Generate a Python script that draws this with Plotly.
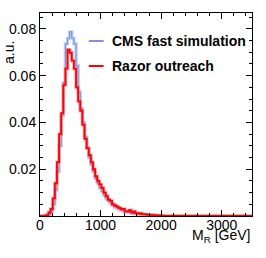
import numpy as np
import plotly.graph_objects as go

# Histogram binning (GeV)
bin_width = 35
n_bins = 100

# Red: Razor outreach (values per bin, bin index from 0)
razor = [0, 0, 0, 0.0005, 0.0015, 0.003, 0.0075, 0.014, 0.023, 0.035,
         0.044, 0.056, 0.063, 0.0711, 0.0698, 0.0664, 0.063, 0.055, 0.049, 0.045,
         0.039, 0.033, 0.029, 0.026, 0.023, 0.020, 0.017, 0.015, 0.0135, 0.012,
         0.010, 0.0085, 0.007, 0.0065, 0.005, 0.0045, 0.004, 0.0035, 0.003, 0.003,
         0.002, 0.002, 0.0025, 0.0015, 0.002, 0.0012, 0.001, 0.0012, 0.0008, 0.0008,
         0.0006, 0.0005, 0.0005, 0.0004, 0.0004, 0.0003, 0.0003, 0.0002]
# Blue: CMS fast simulation
cms = [0, 0, 0, 0, 0.0005, 0.002, 0.005, 0.011, 0.019, 0.030,
       0.043, 0.057, 0.0736, 0.076, 0.0787, 0.076, 0.0736, 0.0643, 0.053, 0.046,
       0.040, 0.034, 0.029, 0.025, 0.022, 0.019, 0.016, 0.014, 0.012, 0.0105,
       0.009, 0.0075, 0.0065, 0.0055, 0.0045, 0.004, 0.0035, 0.003, 0.0025, 0.002,
       0.002, 0.0015, 0.0015, 0.0012, 0.001, 0.001, 0.0008, 0.0007, 0.0006, 0.0005,
       0.0004, 0.0003, 0.0003, 0.0002, 0.0002]

x_tick_vals = [0, 1000, 2000, 3000]
x_tick_text = ["0", "1000", "2000", "3000"]
y_tick_vals = [0.02, 0.04, 0.06, 0.08]
y_tick_text = ["0.02", "0.04", "0.06", "0.08"]

labels = ["CMS fast simulation", "Razor outreach"]


def pad(v):
    return list(v) + [0.0] * (n_bins - len(v))


edges = [i * bin_width for i in range(n_bins + 1)]
razor_y = pad(razor)
cms_y = pad(cms)

fig = go.Figure()
# blue (light band + thin core)
fig.add_trace(go.Scatter(x=edges, y=cms_y + [cms_y[-1]], mode="lines", line_shape="hv",
                         line=dict(color="rgba(130,160,230,0.45)", width=3.5),
                         showlegend=False, hoverinfo="skip"))
fig.add_trace(go.Scatter(x=edges, y=cms_y + [cms_y[-1]], mode="lines", line_shape="hv",
                         line=dict(color="rgb(120,150,220)", width=1.2),
                         showlegend=False))
# red
fig.add_trace(go.Scatter(x=edges, y=razor_y + [razor_y[-1]], mode="lines", line_shape="hv",
                         line=dict(color="rgba(255,90,90,0.45)", width=3.5),
                         showlegend=False, hoverinfo="skip"))
fig.add_trace(go.Scatter(x=edges, y=razor_y + [razor_y[-1]], mode="lines", line_shape="hv",
                         line=dict(color="rgb(255,0,0)", width=1.8),
                         showlegend=False))

font_family = "Liberation Sans, Arial, Helvetica, sans-serif"

fig.update_layout(
    width=266, height=258,
    margin=dict(l=40, r=14, t=13, b=42, autoexpand=False),
    paper_bgcolor="white", plot_bgcolor="white",
    font=dict(family=font_family, size=14, color="black"),
    xaxis=dict(range=[0, 3500], tickmode="array", tickvals=x_tick_vals, ticktext=x_tick_text,
               ticks="inside", ticklen=6, tickcolor="black", showline=True, linecolor="black",
               linewidth=1, mirror="allticks", showgrid=False, zeroline=False, automargin=False,
               ticklabelstandoff=-4,
               minor=dict(tickmode="linear", tick0=0, dtick=200, ticks="inside", ticklen=3,
                          tickcolor="black", showgrid=False),
               tickfont=dict(size=14)),
    yaxis=dict(range=[0, 0.0868], tickmode="array", tickvals=y_tick_vals, ticktext=y_tick_text,
               ticks="inside", ticklen=6, tickcolor="black", showline=True, linecolor="black",
               linewidth=1, mirror="allticks", showgrid=False, zeroline=False, automargin=False,
               minor=dict(tickmode="linear", tick0=0, dtick=0.005, ticks="inside", ticklen=3,
                          tickcolor="black", showgrid=False),
               tickfont=dict(size=14)),
)

# axis titles (ROOT style, aligned to axis ends)
fig.add_annotation(text="a.u.", xref="paper", yref="paper", x=-0.146, y=0.87,
                   xanchor="center", yanchor="top", textangle=-90, showarrow=False,
                   font=dict(size=14))
fig.add_annotation(text="M<sub>R</sub> [GeV]", xref="paper", yref="paper", x=1.0, y=-0.10,
                   xanchor="right", yanchor="middle", showarrow=False, font=dict(size=14))

# legend
leg_colors = ["rgb(120,150,220)", "rgb(255,0,0)"]
leg_y = [0.862, 0.739]
for lab, col, yy in zip(labels, leg_colors, leg_y):
    fig.add_shape(type="line", xref="paper", yref="paper", x0=0.23, x1=0.30, y0=yy, y1=yy,
                  line=dict(color=col, width=2))
    fig.add_annotation(text="<b>%s</b>" % lab, xref="paper", yref="paper", x=0.33, y=yy,
                       xanchor="left", yanchor="middle", showarrow=False,
                       font=dict(size=14))

fig.write_html("out.html", config={"displayModeBar": False},
               post_script="document.body.style.margin='0';")
